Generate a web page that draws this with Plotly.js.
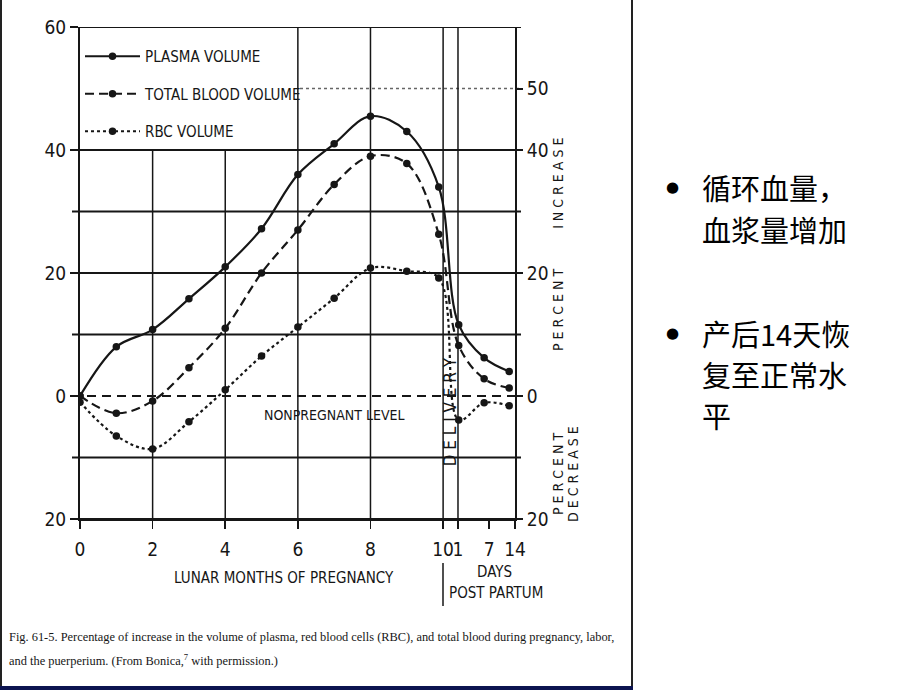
<!DOCTYPE html>
<html><head><meta charset="utf-8">
<script src="https://cdn.plot.ly/plotly-3.0.1.min.js"></script>
<style>html,body{margin:0;padding:0;background:#fff;} #chart{width:920px;height:690px;}</style>
</head><body><div id="chart"></div>
<script>
// ---------------- data ----------------
const monthX = [0, 1, 2, 3, 4, 5, 6, 7, 8, 9, 9.88];      // lunar months of pregnancy
const dayPointX = [10.43, 11.13, 11.82];                   // days post partum 1, 7, 14 (compressed scale)
const plasmaMonths = [0, 8, 10.8, 15.8, 21, 27.2, 36, 41, 45.5, 43, 34];
const plasmaDays   = [11.6, 6.2, 4];
const totalMonths  = [0, -2.8, -0.8, 4.6, 11, 20, 27, 34.4, 39, 37.8, 26.3];
const totalDays    = [8.2, 2.8, 1.3];
const rbcMonths    = [-1, -6.5, -8.6, -4.2, 1, 6.5, 11.2, 15.9, 20.8, 20.3, 19.2];
const rbcDays      = [-3.9, -1.1, -1.6];
const seriesNames  = ['PLASMA VOLUME', 'TOTAL BLOOD VOLUME', 'RBC VOLUME'];
const xTickVals = [0, 2, 4, 6, 8, 10, 10.41, 11.27, 11.98];
const xTickText = ['0', '2', '4', '6', '8', '10', '1', '7', '14'];
const leftTickVals  = [-20, 0, 20, 40, 60];
const leftTickText  = ['20', '0', '20', '40', '60'];
const rightTickVals = [-20, 0, 20, 40, 50];
const rightTickText = ['20', '0', '20', '40', '50'];
const solidGrid = [-10, 10, 20, 30, 40, 60];
const gridFull = [6, 8, 10, 10.41];
const gridShort = [2, 4];

// ---------------- layout helpers ----------------
const L = 80, R = 515, T = 27, B = 519, WW = 920, HH = 690;
const PW = R - L, PH = B - T;
const PX = p => (p - L) / PW;
const PY = p => (B - p) / PH;
const INK = '#161616';
const LET = '"Liberation Sans Narrow", "DejaVu Sans Condensed", "Arial Narrow", sans-serif';
const SERIF = '"Liberation Serif", "DejaVu Serif", serif';
const CJK = '"Noto Sans CJK SC", sans-serif';

const mk = (name, ys, yd, dash) => ({
  type: 'scatter', mode: 'lines+markers', name: name, legendgroup: name,
  x: monthX.concat(dayPointX), y: ys.concat(yd),
  line: {color: INK, width: 2.2, dash: dash, shape: 'spline', smoothing: 1},
  marker: {color: INK, size: 7.5, symbol: 'circle'},
  hoverinfo: 'skip'
});
const traces = [
  mk(seriesNames[0], plasmaMonths, plasmaDays, 'solid'),
  mk(seriesNames[1], totalMonths, totalDays, '9px,5px'),
  mk(seriesNames[2], rbcMonths, rbcDays, 'dot'),
  {type: 'scatter', x: [null], y: [null], yaxis: 'y2', showlegend: false, hoverinfo: 'skip'}
];

const shapes = [];
solidGrid.forEach(v => shapes.push({type: 'line', xref: 'paper', yref: 'y', x0: PX(72), x1: PX(521), y0: v, y1: v, line: {color: INK, width: 2}, layer: 'below'}));
shapes.push({type: 'line', xref: 'paper', yref: 'y', x0: PX(72), x1: PX(521), y0: -20, y1: -20, line: {color: INK, width: 2}, layer: 'below'});
shapes.push({type: 'line', xref: 'paper', yref: 'y', x0: PX(300), x1: PX(521), y0: 50, y1: 50, line: {color: '#666', width: 1.5, dash: 'dot'}, layer: 'below'});
shapes.push({type: 'line', xref: 'paper', yref: 'y', x0: PX(72), x1: PX(521), y0: 0, y1: 0, line: {color: INK, width: 2, dash: '9px,6px'}, layer: 'below'});
gridFull.forEach(v => shapes.push({type: 'line', xref: 'x', yref: 'y', x0: v, x1: v, y0: -20, y1: 60, line: {color: INK, width: 1.5}, layer: 'below'}));
gridShort.forEach(v => shapes.push({type: 'line', xref: 'x', yref: 'y', x0: v, x1: v, y0: -20, y1: 40, line: {color: INK, width: 1.5}, layer: 'below'}));
// separator under the axis between months and days
shapes.push({type: 'line', xref: 'paper', yref: 'paper', x0: PX(443), x1: PX(443), y0: PY(563), y1: PY(606), line: {color: INK, width: 1.5}});
// picture frame
shapes.push({type: 'line', xref: 'paper', yref: 'paper', x0: PX(1), x1: PX(1), y0: PY(0), y1: PY(688), line: {color: '#222', width: 2}});
shapes.push({type: 'line', xref: 'paper', yref: 'paper', x0: PX(632), x1: PX(632), y0: PY(0), y1: PY(688), line: {color: '#222', width: 2}});
shapes.push({type: 'line', xref: 'paper', yref: 'paper', x0: PX(0), x1: PX(633), y0: PY(688), y1: PY(688), line: {color: '#0c1450', width: 4}});

const ann = (o) => Object.assign({showarrow: false, xanchor: 'center', yanchor: 'middle', font: {family: LET, size: 15, color: INK}}, o);
const annotations = [
  ann({xref: 'x', yref: 'y', x: 7.02, y: -3.1, text: 'NONPREGNANT LEVEL', font: {family: LET, size: 14, color: INK}}),
  ann({xref: 'x', yref: 'y', x: 10.2, y: -2.6, text: 'D E L I V E R Y', textangle: -90, font: {family: LET, size: 17, color: INK}}),
  ann({xref: 'paper', yref: 'paper', x: PX(284), y: PY(578), text: 'LUNAR MONTHS OF PREGNANCY'}),
  ann({xref: 'paper', yref: 'paper', x: PX(494), y: PY(572), text: 'DAYS'}),
  ann({xref: 'paper', yref: 'paper', x: PX(496), y: PY(593), text: 'POST PARTUM'}),
  ann({xref: 'paper', yref: 'paper', x: PX(558), y: PY(245), textangle: -90, text: 'P E R C E N T          I N C R E A S E', font: {family: LET, size: 14, color: INK}}),
  ann({xref: 'paper', yref: 'paper', x: PX(558), y: PY(474), textangle: -90, text: 'P E R C E N T', font: {family: LET, size: 14, color: INK}}),
  ann({xref: 'paper', yref: 'paper', x: PX(573), y: PY(474), textangle: -90, text: 'D E C R E A S E', font: {family: LET, size: 14, color: INK}}),
  ann({xref: 'paper', yref: 'paper', x: PX(7), y: PY(637), xanchor: 'left', font: {family: SERIF, size: 12.4, color: INK},
       text: 'Fig. 61-5. Percentage of increase in the volume of plasma, red blood cells (RBC), and total blood during pregnancy, labor,'}),
  ann({xref: 'paper', yref: 'paper', x: PX(7), y: PY(660), xanchor: 'left', font: {family: SERIF, size: 12.4, color: INK},
       text: 'and the puerperium. (From Bonica,<sup>7</sup> with permission.)'}),
  ann({xref: 'paper', yref: 'paper', x: PX(672), y: PY(187), text: '●', font: {family: 'DejaVu Sans', size: 15, color: '#000'}}),
  ann({xref: 'paper', yref: 'paper', x: PX(672), y: PY(333), text: '●', font: {family: 'DejaVu Sans', size: 15, color: '#000'}}),
  ann({xref: 'paper', yref: 'paper', x: PX(700), y: PY(187), xanchor: 'left', text: '循环血量，', font: {family: CJK, size: 29, color: '#000'}}),
  ann({xref: 'paper', yref: 'paper', x: PX(700), y: PY(229), xanchor: 'left', text: '血浆量增加', font: {family: CJK, size: 29, color: '#000'}}),
  ann({xref: 'paper', yref: 'paper', x: PX(700), y: PY(333), xanchor: 'left', text: '产后14天恢', font: {family: CJK, size: 29, color: '#000'}}),
  ann({xref: 'paper', yref: 'paper', x: PX(700), y: PY(374), xanchor: 'left', text: '复至正常水', font: {family: CJK, size: 29, color: '#000'}}),
  ann({xref: 'paper', yref: 'paper', x: PX(700), y: PY(415), xanchor: 'left', text: '平', font: {family: CJK, size: 29, color: '#000'}})
];

const layout = {
  width: WW, height: HH,
  margin: {l: L, r: WW - R, t: T, b: HH - B, pad: 0},
  paper_bgcolor: '#fff', plot_bgcolor: 'rgba(0,0,0,0)',
  showlegend: true,
  legend: {x: PX(80), y: PY(40), xanchor: 'left', yanchor: 'top', bgcolor: 'rgba(0,0,0,0)',
           font: {family: LET, size: 15, color: INK}, tracegroupgap: 15, itemwidth: 55},
  xaxis: {range: [0, 11.98], showgrid: false, zeroline: false, showline: true, linecolor: INK, linewidth: 2,
          tickmode: 'array', tickvals: xTickVals, ticktext: xTickText, tickangle: 0, ticks: 'outside', ticklen: 8, tickwidth: 1.5, tickcolor: INK,
          ticklabelstandoff: 4, tickfont: {family: LET, size: 19, color: INK}, fixedrange: true},
  yaxis: {range: [-20, 60], showgrid: false, zeroline: false, showline: true, linecolor: INK, linewidth: 2,
          tickmode: 'array', tickvals: leftTickVals, ticktext: leftTickText, ticks: 'outside', ticklen: 8, tickwidth: 2, tickcolor: INK,
          tickfont: {family: LET, size: 19, color: INK}, fixedrange: true},
  yaxis2: {range: [-20, 60], overlaying: 'y', side: 'right', anchor: 'x', showgrid: false, zeroline: false, showline: true,
           linecolor: INK, linewidth: 2, tickmode: 'array', tickvals: rightTickVals, ticktext: rightTickText,
           ticks: 'outside', ticklen: 6, tickwidth: 2, tickcolor: INK, tickfont: {family: LET, size: 19, color: INK}, fixedrange: true},
  shapes: shapes,
  annotations: annotations
};

Plotly.newPlot('chart', traces, layout, {staticPlot: true, displayModeBar: false});
</script>
</body></html>
